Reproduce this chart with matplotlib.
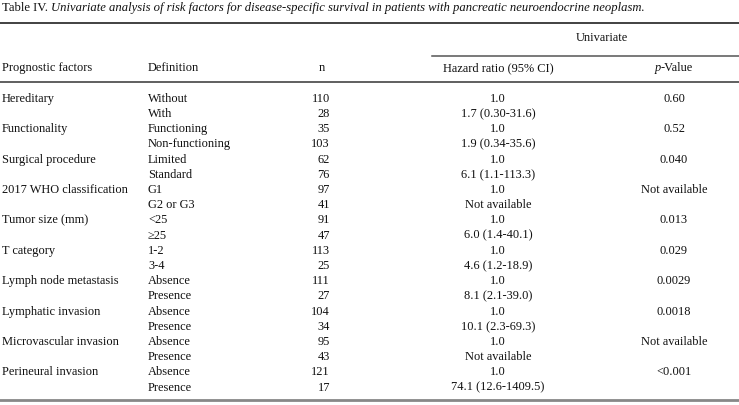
import matplotlib
matplotlib.use("Agg")
import matplotlib.pyplot as plt
from matplotlib.lines import Line2D

W, H = 739, 406

factors = ["Hereditary", "Functionality", "Surgical procedure", "2017 WHO classification",
           "Tumor size (mm)", "T category", "Lymph node metastasis", "Lymphatic invasion",
           "Microvascular invasion", "Perineural invasion"]
definitions = [["Without", "With"], ["Functioning", "Non-functioning"], ["Limited", "Standard"],
               ["G1", "G2 or G3"], ["<25", "≥25"], ["1-2", "3-4"], ["Absence", "Presence"],
               ["Absence", "Presence"], ["Absence", "Presence"], ["Absence", "Presence"]]
n_values = [[110, 28], [35, 103], [62, 76], [97, 41], [91, 47], [113, 25], [111, 27],
            [104, 34], [95, 43], [121, 17]]
hazard = [["1.0", "1.7 (0.30-31.6)"], ["1.0", "1.9 (0.34-35.6)"], ["1.0", "6.1 (1.1-113.3)"],
          ["1.0", "Not available"], ["1.0", "6.0 (1.4-40.1)"], ["1.0", "4.6 (1.2-18.9)"],
          ["1.0", "8.1 (2.1-39.0)"], ["1.0", "10.1 (2.3-69.3)"], ["1.0", "Not available"],
          ["1.0", "74.1 (12.6-1409.5)"]]
pvalues = ["0.60", "0.52", "0.040", "Not available", "0.013", "0.029", "0.0029", "0.0018",
           "Not available", "<0.001"]

FONT = ["Liberation Serif", "DejaVu Serif"]
plt.rcParams["font.family"] = FONT
FS = 8.9
BASE = 3.4  # px from visual centre to baseline

fig = plt.figure(figsize=(W / 100, H / 100), dpi=100)


def fy(y):
    return 1 - y / H


def fx(x):
    return x / W


def txt(x, y, s, ha="left", style="normal", size=FS):
    return fig.text(fx(x), fy(y + BASE), s, ha=ha, va="baseline", fontsize=size,
                    style=style, family=FONT, color="#111111")


def hline(x0, x1, y, lw=1.2, color="#555555"):
    fig.add_artist(Line2D([fx(x0), fx(x1)], [fy(y), fy(y)], transform=fig.transFigure,
                          color=color, lw=lw))


renderer = fig.canvas.get_renderer()

# Title
t1 = txt(2, 8, "Table IV. ", size=9.1)
bb = t1.get_window_extent(renderer=renderer)
txt(bb.x1, 8, "Univariate analysis of risk factors for disease-specific survival in patients "
    "with pancreatic neuroendocrine neoplasm.", style="italic", size=9.1)

# Rules
hline(0, W, 23.5, lw=1.3, color="#333333")
hline(432, W, 57, lw=1.1, color="#555555")
hline(0, W, 83, lw=1.2, color="#444444")
hline(0, W, 400.5, lw=2.0, color="#888888")

# Header
txt(602, 38, "Univariate", ha="center")
txt(2, 68, "Prognostic factors")
txt(148, 68, "Definition")
txt(322, 68, "n", ha="center")
txt(498, 68, "Hazard ratio (95% CI)", ha="center")
tp = fig.text(0, 0, "p", fontsize=FS, style="italic", family=FONT)
tv = fig.text(0, 0, "-Value", fontsize=FS, family=FONT)
wp = tp.get_window_extent(renderer=renderer).width
wv = tv.get_window_extent(renderer=renderer).width
tp.remove()
tv.remove()
x0 = 674 - (wp + wv) / 2
txt(x0, 68, "p", style="italic")
txt(x0 + wp, 68, "-Value")

# Body
y0 = 98.5
dy = 15.2
row = 0
for i, f in enumerate(factors):
    for j in range(2):
        y = y0 + row * dy
        if j == 0:
            txt(2, y, f)
            txt(674, y, pvalues[i], ha="center")
        txt(148, y, definitions[i][j])
        txt(330, y, str(n_values[i][j]), ha="right")
        txt(498, y, hazard[i][j], ha="center")
        row += 1

fig.savefig("out.png", dpi=100, facecolor="white")
